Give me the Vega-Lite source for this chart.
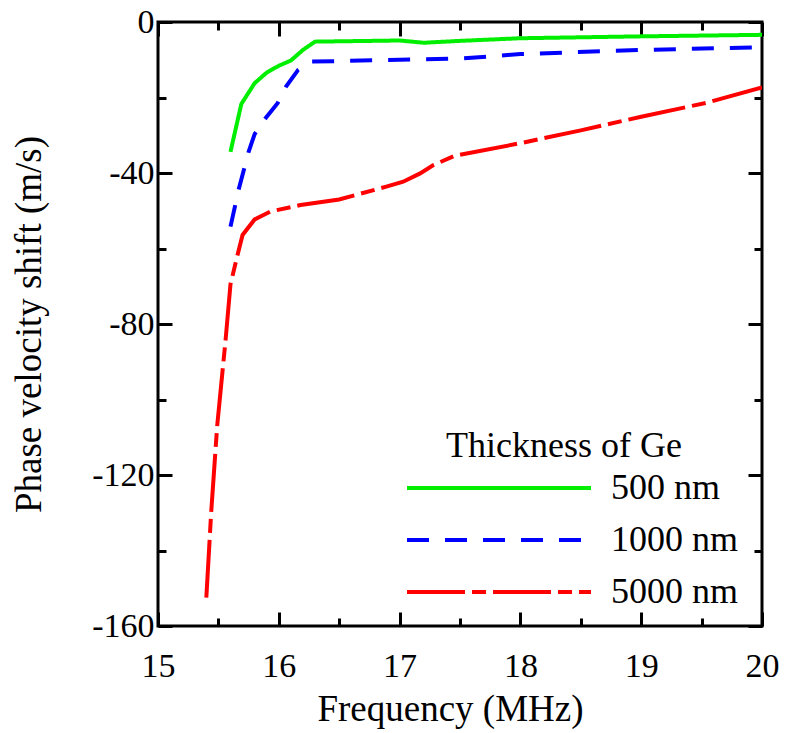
{
  "$schema": "https://vega.github.io/schema/vega-lite/v6.json",
  "width": 604,
  "height": 604,
  "autosize": "none",
  "padding": {"left": 158, "top": 22, "right": 25, "bottom": 107},
  "background": "white",
  "config": {
    "view": {"stroke": "black", "strokeWidth": 3},
    "font": "Liberation Serif",
    "axis": {"labelFont": "Liberation Serif", "titleFont": "Liberation Serif"},
    "legend": {"labelFont": "Liberation Serif", "titleFont": "Liberation Serif"}
  },
  "data": {"values": [
    {"f": 15.60, "v": -34.4, "t": "500 nm"},
    {"f": 15.69, "v": -21.7, "t": "500 nm"},
    {"f": 15.80, "v": -16.2, "t": "500 nm"},
    {"f": 15.90, "v": -13.4, "t": "500 nm"},
    {"f": 16.00, "v": -11.6, "t": "500 nm"},
    {"f": 16.10, "v": -10.2, "t": "500 nm"},
    {"f": 16.20, "v": -7.4, "t": "500 nm"},
    {"f": 16.30, "v": -5.2, "t": "500 nm"},
    {"f": 17.00, "v": -4.9, "t": "500 nm"},
    {"f": 17.20, "v": -5.5, "t": "500 nm"},
    {"f": 17.50, "v": -5.0, "t": "500 nm"},
    {"f": 18.00, "v": -4.3, "t": "500 nm"},
    {"f": 19.00, "v": -3.8, "t": "500 nm"},
    {"f": 20.00, "v": -3.4, "t": "500 nm"},
    {"f": 15.60, "v": -54.2, "t": "1000 nm"},
    {"f": 15.67, "v": -44.1, "t": "1000 nm"},
    {"f": 15.75, "v": -34.4, "t": "1000 nm"},
    {"f": 15.80, "v": -29.7, "t": "1000 nm"},
    {"f": 15.89, "v": -25.5, "t": "1000 nm"},
    {"f": 15.99, "v": -21.5, "t": "1000 nm"},
    {"f": 16.06, "v": -17.1, "t": "1000 nm"},
    {"f": 16.16, "v": -12.7, "t": "1000 nm"},
    {"f": 16.26, "v": -10.5, "t": "1000 nm"},
    {"f": 17.00, "v": -10.0, "t": "1000 nm"},
    {"f": 17.50, "v": -9.7, "t": "1000 nm"},
    {"f": 18.00, "v": -8.5, "t": "1000 nm"},
    {"f": 19.00, "v": -7.4, "t": "1000 nm"},
    {"f": 20.00, "v": -6.7, "t": "1000 nm"},
    {"f": 15.40, "v": -152.5, "t": "5000 nm"},
    {"f": 15.44, "v": -130, "t": "5000 nm"},
    {"f": 15.49, "v": -107, "t": "5000 nm"},
    {"f": 15.56, "v": -84, "t": "5000 nm"},
    {"f": 15.60, "v": -69.5, "t": "5000 nm"},
    {"f": 15.66, "v": -61.5, "t": "5000 nm"},
    {"f": 15.70, "v": -56.4, "t": "5000 nm"},
    {"f": 15.80, "v": -52.3, "t": "5000 nm"},
    {"f": 15.93, "v": -50.2, "t": "5000 nm"},
    {"f": 16.18, "v": -48.5, "t": "5000 nm"},
    {"f": 16.50, "v": -47.0, "t": "5000 nm"},
    {"f": 16.64, "v": -45.8, "t": "5000 nm"},
    {"f": 16.89, "v": -43.6, "t": "5000 nm"},
    {"f": 17.03, "v": -42.3, "t": "5000 nm"},
    {"f": 17.17, "v": -40.1, "t": "5000 nm"},
    {"f": 17.28, "v": -37.9, "t": "5000 nm"},
    {"f": 17.45, "v": -35.5, "t": "5000 nm"},
    {"f": 18.00, "v": -32.1, "t": "5000 nm"},
    {"f": 18.50, "v": -28.7, "t": "5000 nm"},
    {"f": 19.00, "v": -25.1, "t": "5000 nm"},
    {"f": 19.54, "v": -21.4, "t": "5000 nm"},
    {"f": 20.00, "v": -17.3, "t": "5000 nm"}
  ]},
  "layer": [
    {
      "mark": {"type": "line", "strokeWidth": 4, "strokeCap": "butt", "clip": true},
      "encoding": {
        "x": {"field": "f", "type": "quantitative", "scale": {"domain": [15, 20], "nice": false, "zero": false},
          "axis": {"orient": "bottom", "title": "Frequency (MHz)", "values": [15, 15.5, 16, 16.5, 17, 17.5, 18, 18.5, 19, 19.5, 20],
            "domain": false, "grid": false, "tickColor": "black", "tickWidth": 3,
            "tickSize": {"condition": {"test": "datum.value % 1 === 0", "value": -14}, "value": -8},
            "labelExpr": "datum.value % 1 === 0 ? '' + datum.value : ''",
            "labelFont": "Liberation Serif", "labelFontSize": 34, "labelColor": "black",
            "titleFont": "Liberation Serif", "titleFontSize": 37, "titleFontWeight": "normal", "titleColor": "black",
            "titleX": 292,
            "labelPadding": 37, "titlePadding": 2, "labelFlush": false, "labelOverlap": false}},
        "y": {"field": "v", "type": "quantitative", "scale": {"domain": [-160, 0], "nice": false, "zero": false},
          "axis": {"orient": "left", "title": "Phase velocity shift (m/s)", "values": [-160, -140, -120, -100, -80, -60, -40, -20, 0],
            "domain": false, "grid": false, "tickColor": "black", "tickWidth": 3,
            "tickSize": {"condition": {"test": "datum.value % 40 === 0", "value": -14}, "value": -8},
            "labelExpr": "datum.value % 40 === 0 ? '' + datum.value : ''",
            "labelFont": "Liberation Serif", "labelFontSize": 34, "labelColor": "black",
            "titleFont": "Liberation Serif", "titleFontSize": 37, "titleFontWeight": "normal", "titleColor": "black",
            "labelPadding": 18, "titlePadding": 43, "labelFlush": false, "labelOverlap": false}},
        "color": {"field": "t", "type": "nominal", "title": "Thickness of Ge",
          "scale": {"domain": ["500 nm", "1000 nm", "5000 nm"], "range": ["#00ee00", "#0000ff", "#ff0000"]},
          "legend": {"orient": "none", "legendX": 231, "legendY": 407, "padding": 0,
            "symbolType": "M0,0H16", "symbolSize": 529, "symbolStrokeWidth": 4, "symbolFillColor": "transparent",
            "labelOffset": 186, "labelFont": "Liberation Serif", "labelFontSize": 36, "labelColor": "black", "labelLimit": 300,
            "titleFont": "Liberation Serif", "titleFontSize": 36, "titleFontWeight": "normal", "titleColor": "black",
            "titleAnchor": "middle", "titleAlign": "center", "titlePadding": 5, "rowPadding": 16, "titleLimit": 400}},
        "strokeDash": {"field": "t", "type": "nominal", "title": "Thickness of Ge",
          "scale": {"domain": ["500 nm", "1000 nm", "5000 nm"], "range": [[1, 0], [22, 16], [58, 7, 14, 7]]},
          "legend": {"orient": "none", "legendX": 231, "legendY": 407, "padding": 0,
            "symbolType": "M0,0H16", "symbolSize": 529, "symbolStrokeWidth": 4, "symbolFillColor": "transparent",
            "labelOffset": 186, "labelFont": "Liberation Serif", "labelFontSize": 36, "labelColor": "black", "labelLimit": 300,
            "titleFont": "Liberation Serif", "titleFontSize": 36, "titleFontWeight": "normal", "titleColor": "black",
            "titleAnchor": "middle", "titleAlign": "center", "titlePadding": 5, "rowPadding": 16, "titleLimit": 400}}
      }
    },
    {
      "mark": {"type": "line", "opacity": 0},
      "encoding": {
        "x": {"field": "f", "type": "quantitative",
          "axis": {"orient": "top", "title": null, "values": [15, 15.5, 16, 16.5, 17, 17.5, 18, 18.5, 19, 19.5, 20],
            "domain": false, "grid": false, "tickColor": "black", "tickWidth": 3,
            "tickSize": {"condition": {"test": "datum.value % 1 === 0", "value": -14}, "value": -8}, "labels": false}},
        "y": {"field": "v", "type": "quantitative",
          "axis": {"orient": "right", "title": null, "values": [-160, -140, -120, -100, -80, -60, -40, -20, 0],
            "domain": false, "grid": false, "tickColor": "black", "tickWidth": 3,
            "tickSize": {"condition": {"test": "datum.value % 40 === 0", "value": -14}, "value": -8}, "labels": false}},
        "detail": {"field": "t", "type": "nominal"}
      }
    }
  ],
  "resolve": {"axis": {"x": "independent", "y": "independent"}}
}
